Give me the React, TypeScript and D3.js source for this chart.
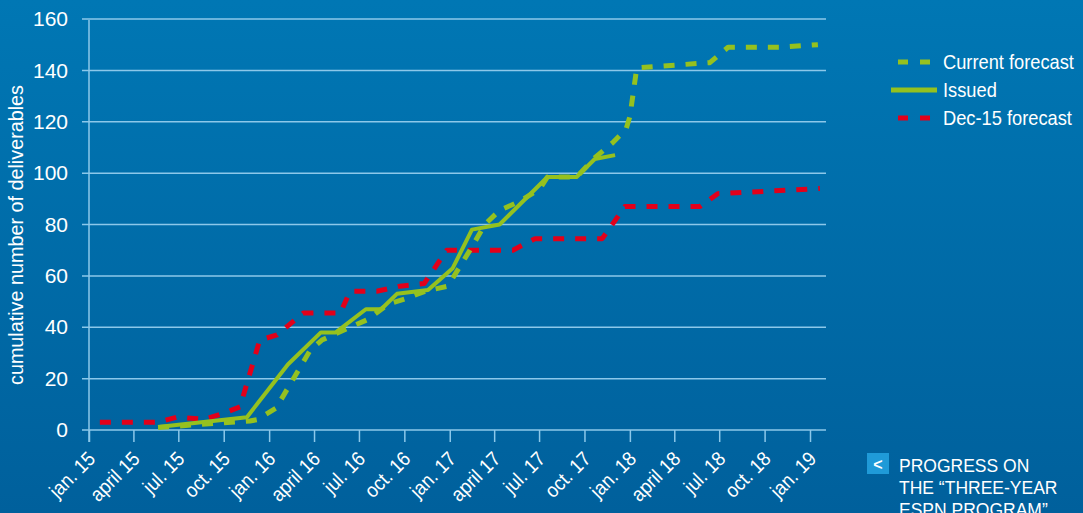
import React, { useEffect, useRef } from 'react';
import * as d3 from 'd3';

// x tick labels, one per quarter from jan. 15 to jan. 19
const tickLabels = [
  'jan. 15', 'april 15', 'jul. 15', 'oct. 15',
  'jan. 16', 'april 16', 'jul. 16', 'oct. 16',
  'jan. 17', 'april 17', 'jul. 17', 'oct. 17',
  'jan. 18', 'april 18', 'jul. 18', 'oct. 18',
  'jan. 19',
];
const yTicks = [0, 20, 40, 60, 80, 100, 120, 140, 160];

// Dec-15 forecast
const decDates = [
  '2015-01-23', '2015-05-19', '2015-06-28', '2015-08-24', '2015-09-23', '2015-11-03',
  '2015-12-13', '2016-01-17', '2016-03-10', '2016-05-24', '2016-06-13', '2016-08-06',
  '2016-09-22', '2016-11-10', '2016-12-26', '2017-05-09', '2017-06-23', '2017-11-06',
  '2017-12-22', '2018-05-23', '2018-06-28', '2019-01-21',
];
const decValues = [
  3, 3, 5, 4.2, 6, 9,
  35, 37, 45.5, 45.5, 54, 54,
  56, 57, 70, 70, 74.5, 74.5,
  87, 87, 92, 94,
];

// Issued
const issuedDates = [
  '2015-05-21', '2015-11-17', '2016-02-08', '2016-04-15', '2016-05-15', '2016-07-15',
  '2016-08-15', '2016-09-16', '2016-11-18', '2017-01-07', '2017-02-15', '2017-04-12',
  '2017-07-18', '2017-09-15', '2017-10-22', '2017-12-02',
];
const issuedValues = [
  1.2, 5, 25.5, 38, 38, 47,
  47, 53, 54.5, 63, 78, 80,
  98.5, 98.5, 105.5, 107,
];

// Current forecast
const currentDates = [
  '2015-05-21', '2015-11-23', '2015-12-07', '2016-01-15', '2016-03-24', '2016-04-17',
  '2016-06-13', '2016-07-19', '2016-08-29', '2016-10-02', '2016-11-12', '2016-12-28',
  '2017-02-11', '2017-03-13', '2017-04-12', '2017-05-23', '2017-07-03', '2017-07-18',
  '2017-09-15', '2017-10-22', '2017-11-28', '2017-12-24', '2018-01-01', '2018-01-15',
  '2018-06-12', '2018-07-19', '2018-11-01', '2019-01-17',
];
const currentValues = [
  1, 3.5, 4, 8.5, 31, 35,
  40, 43, 49, 51, 54, 56,
  70, 80, 85.5, 89, 94, 98.5,
  98.5, 106, 112, 117, 122, 141,
  143, 149, 149, 150,
];

const GREEN = '#95c11f';
const RED = '#e2001a';
const GRID = '#8cc8ea';
const FONT = '"Liberation Sans", Arial, sans-serif';

export default function App() {
  const ref = useRef<SVGSVGElement>(null);

  useEffect(() => {
    const parse = d3.timeParse('%Y-%m-%d');
    const svg = d3.select(ref.current);
    svg.selectAll('*').remove();

    const defs = svg.append('defs');
    const grad = defs.append('linearGradient').attr('id', 'bg').attr('x1', 0).attr('y1', 0).attr('x2', 0).attr('y2', 1);
    grad.append('stop').attr('offset', '0%').attr('stop-color', '#0077b4');
    grad.append('stop').attr('offset', '100%').attr('stop-color', '#00609c');
    svg.append('rect').attr('width', 1083).attr('height', 513).attr('fill', 'url(#bg)');

    const x = d3.scaleTime().domain([parse('2015-01-01')!, parse('2019-01-01')!]).range([89, 810]);
    const y = d3.scaleLinear().domain([0, 160]).range([430, 19]);
    const quarters = d3.timeMonth.every(3)!.range(parse('2015-01-01')!, parse('2019-01-02')!);

    // grid
    svg.append('g')
      .selectAll('line')
      .data(yTicks)
      .enter()
      .append('line')
      .attr('x1', 82)
      .attr('x2', 826)
      .attr('y1', (d) => y(d))
      .attr('y2', (d) => y(d))
      .attr('stroke', GRID)
      .attr('stroke-width', 1.5);

    svg.append('line')
      .attr('x1', 89).attr('x2', 89)
      .attr('y1', y(160) + 1).attr('y2', y(0) + 12)
      .attr('stroke', GRID).attr('stroke-width', 1.5);

    // x axis
    const xAxis = svg.append('g')
      .attr('transform', `translate(0, ${y(0)})`)
      .call(d3.axisBottom(x).tickValues(quarters).tickSize(12).tickSizeOuter(0).tickFormat((d, i) => tickLabels[i]));
    xAxis.select('.domain').remove();
    xAxis.selectAll('line').attr('stroke', GRID).attr('stroke-width', 1.5);
    xAxis.selectAll('text')
      .attr('fill', '#fff')
      .attr('font-family', FONT)
      .attr('font-size', 20)
      .attr('text-anchor', 'end')
      .attr('dy', null)
      .attr('y', null)
      .attr('transform', 'translate(7, 30) rotate(-45) scale(0.92, 1)');

    // y axis
    const yAxis = svg.append('g')
      .attr('transform', 'translate(68, 0)')
      .call(d3.axisLeft(y).tickValues(yTicks).tickSize(0).tickPadding(0));
    yAxis.select('.domain').remove();
    yAxis.selectAll('text')
      .attr('fill', '#fff')
      .attr('font-family', FONT)
      .attr('font-size', 21);

    svg.append('text')
      .attr('transform', 'translate(23, 235) rotate(-90)')
      .attr('text-anchor', 'middle')
      .attr('fill', '#fff')
      .attr('font-family', FONT)
      .attr('font-size', 21)
      .attr('textLength', 300)
      .attr('lengthAdjust', 'spacingAndGlyphs')
      .text('cumulative number of deliverables');

    // lines
    const line = d3.line<[string, number]>()
      .x((d) => x(parse(d[0])!))
      .y((d) => y(d[1]));

    const series = [
      { dates: decDates, values: decValues, color: RED, dash: '11,11', width: 5 },
      { dates: currentDates, values: currentValues, color: GREEN, dash: '11,11', width: 5 },
      { dates: issuedDates, values: issuedValues, color: GREEN, dash: null, width: 4 },
    ];
    series.forEach((s) => {
      svg.append('path')
        .datum(s.dates.map((d, i) => [d, s.values[i]] as [string, number]))
        .attr('d', line)
        .attr('fill', 'none')
        .attr('stroke', s.color)
        .attr('stroke-width', s.width)
        .attr('stroke-dasharray', s.dash)
        .attr('stroke-linejoin', 'round');
    });

    // legend
    const legend = [
      { label: 'Current forecast', color: GREEN, dash: '10,12', y: 62, x1: 898, x2: 932 },
      { label: 'Issued', color: GREEN, dash: null, y: 90, x1: 891, x2: 937 },
      { label: 'Dec-15 forecast', color: RED, dash: '10,12', y: 118, x1: 898, x2: 932 },
    ];
    const lg = svg.append('g');
    legend.forEach((l) => {
      lg.append('line')
        .attr('x1', l.x1).attr('x2', l.x2).attr('y1', l.y).attr('y2', l.y)
        .attr('stroke', l.color).attr('stroke-width', 5)
        .attr('stroke-dasharray', l.dash);
      lg.append('text')
        .attr('transform', `translate(943, ${l.y + 7}) scale(0.87, 1)`)
        .attr('fill', '#fff')
        .attr('font-family', FONT)
        .attr('font-size', 21)
        .text(l.label);
    });

    // nav note
    svg.append('rect').attr('x', 867).attr('y', 453).attr('width', 22).attr('height', 21).attr('fill', '#1f9ad8');
    svg.append('text')
      .attr('x', 878).attr('y', 470)
      .attr('text-anchor', 'middle')
      .attr('fill', '#fff')
      .attr('font-family', FONT)
      .attr('font-weight', 'bold')
      .attr('font-size', 16)
      .text('<');
    ['PROGRESS ON', 'THE \u201cTHREE-YEAR', 'ESPN PROGRAM\u201d'].forEach((t, i) => {
      svg.append('text')
        .attr('x', 899).attr('y', 472 + i * 22)
        .attr('fill', '#fff')
        .attr('font-family', FONT)
        .attr('font-size', 17.5)
        .text(t);
    });
  }, []);

  return (
    <svg ref={ref} width={1083} height={513} style={{ position: 'absolute', left: 0, top: 0 }} />
  );
}
